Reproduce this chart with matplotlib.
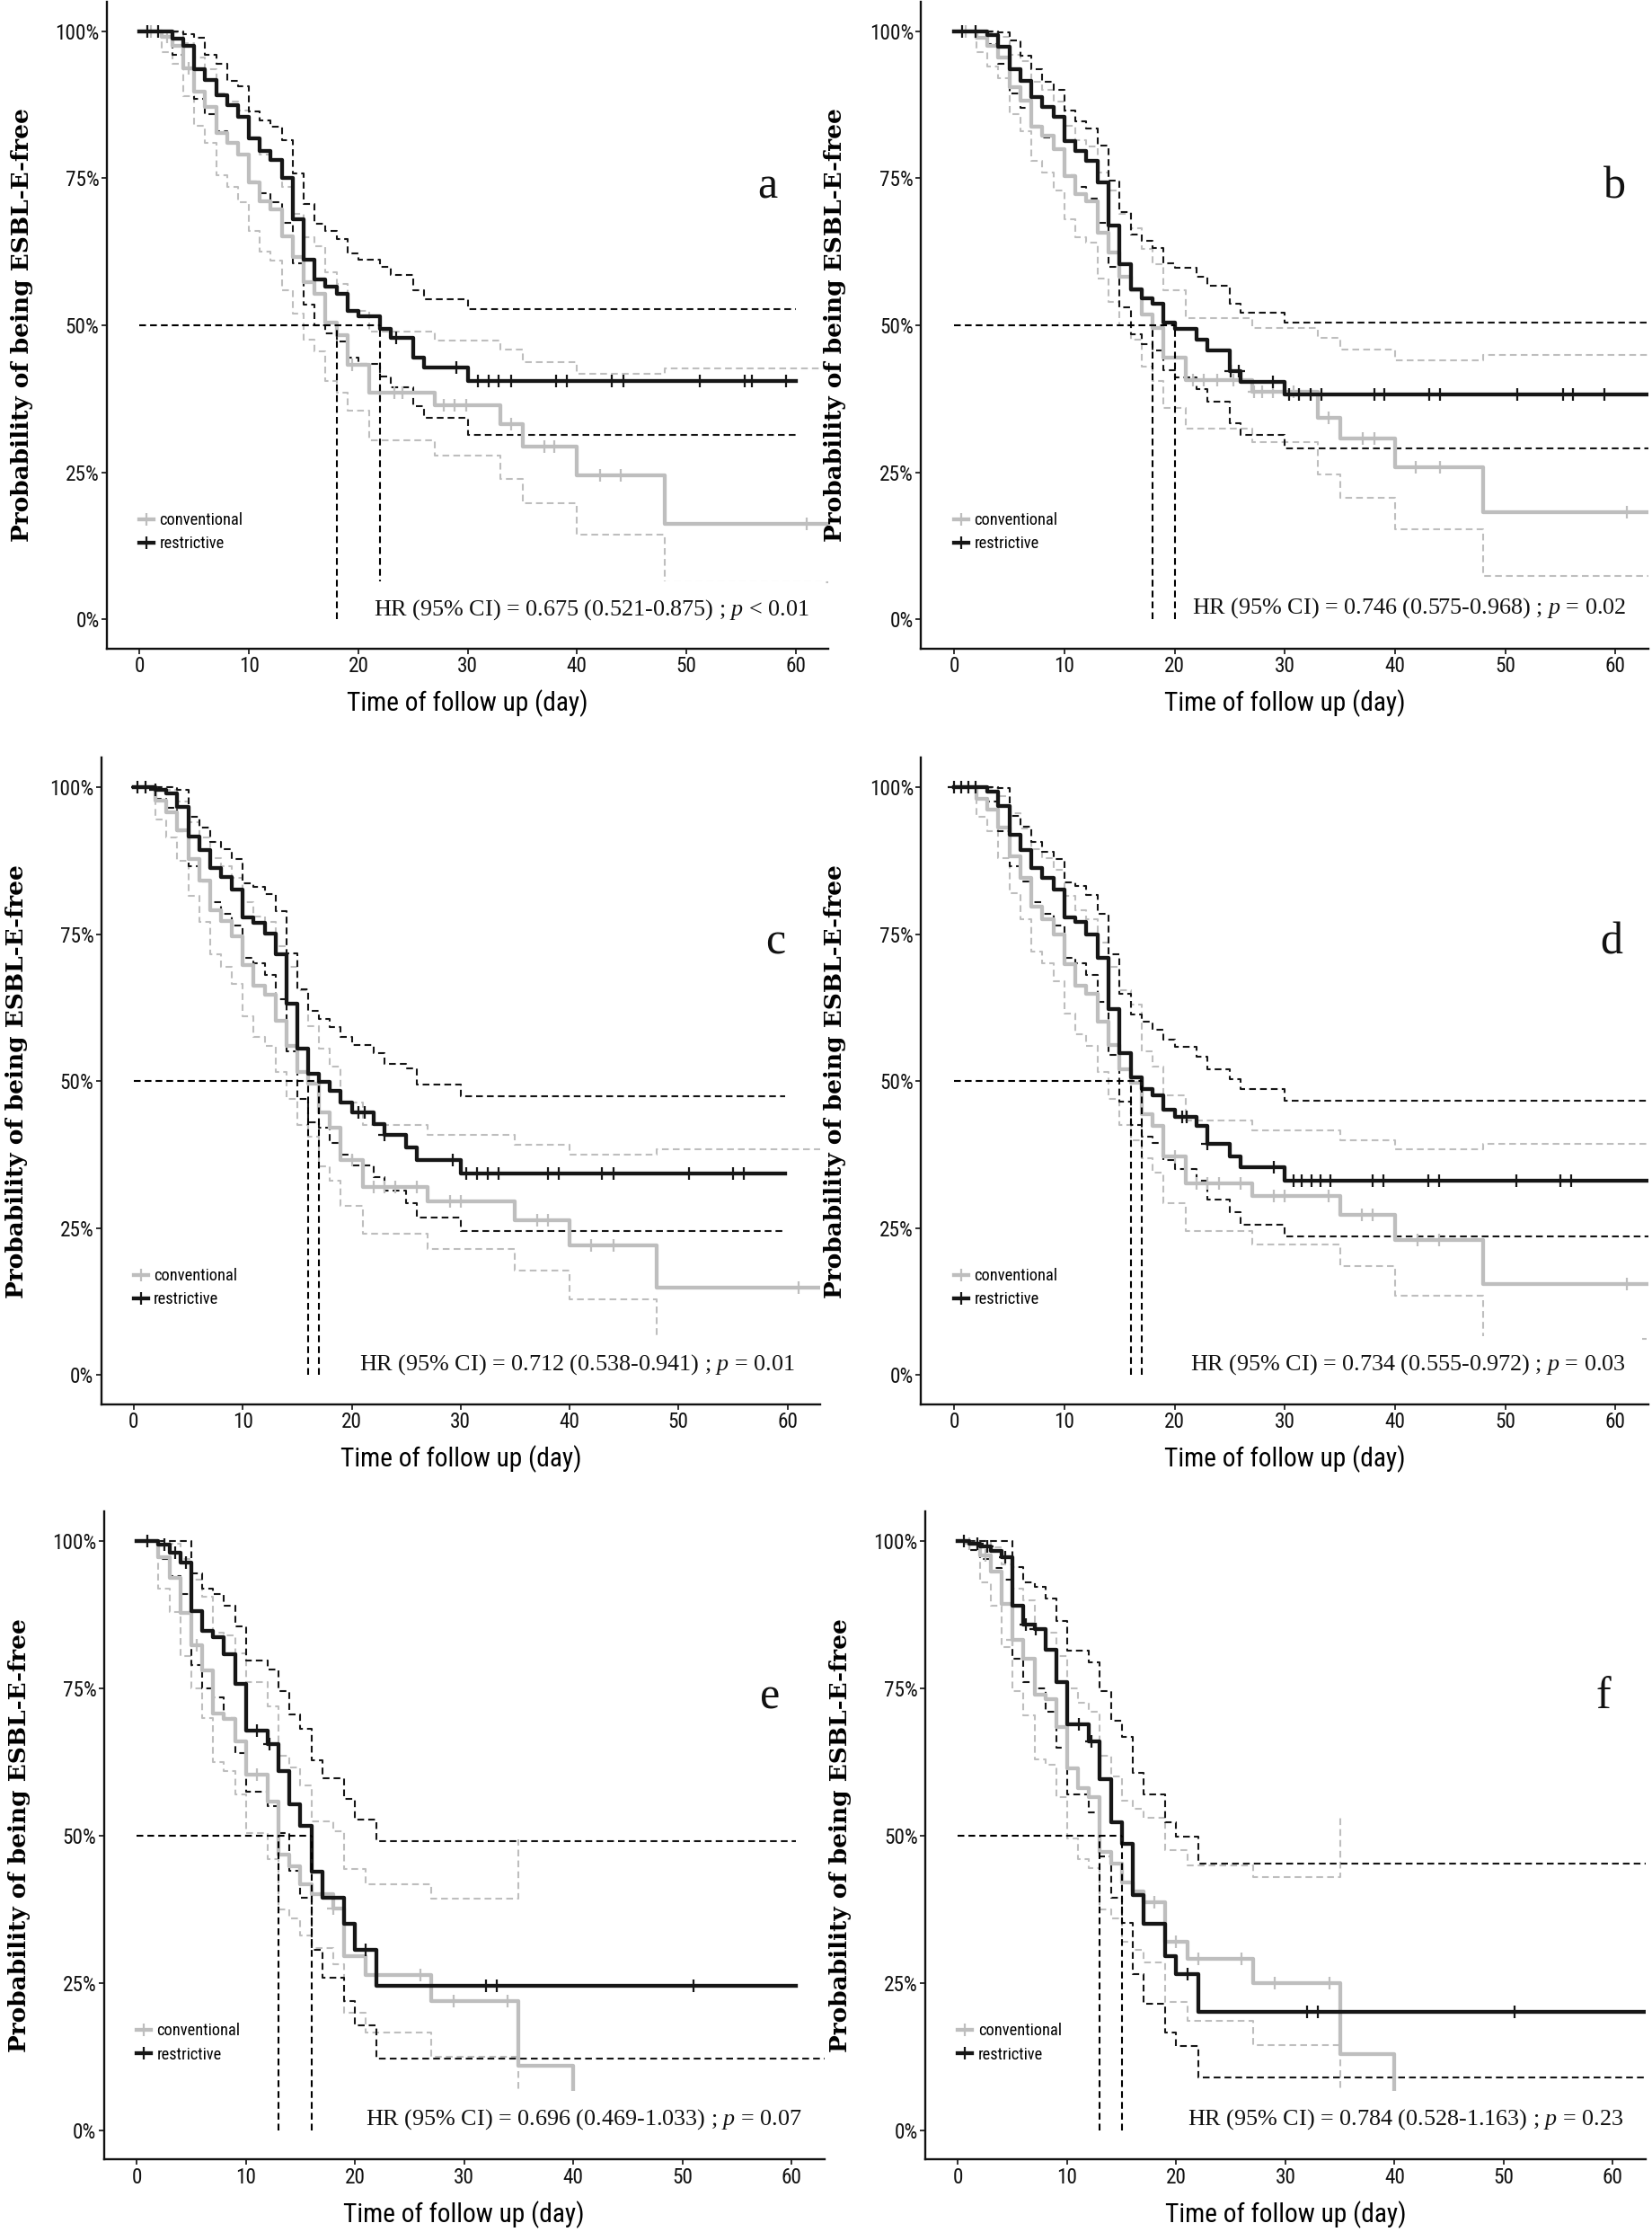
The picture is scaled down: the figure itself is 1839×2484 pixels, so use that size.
import numpy as np
import matplotlib
matplotlib.use("Agg")
import matplotlib.pyplot as plt
from matplotlib.lines import Line2D
from matplotlib import font_manager as fm

# ---------------- data (survival in %, time in days) ----------------
panel_letters = ["a", "b", "c", "d", "e", "f"]
hr_texts = [
    "HR (95% CI) = 0.675 (0.521-0.875) ; $p$ < 0.01",
    "HR (95% CI) = 0.746 (0.575-0.968) ; $p$ = 0.02",
    "HR (95% CI) = 0.712 (0.538-0.941) ; $p$ = 0.01",
    "HR (95% CI) = 0.734 (0.555-0.972) ; $p$ = 0.03",
    "HR (95% CI) = 0.696 (0.469-1.033) ; $p$ = 0.07",
    "HR (95% CI) = 0.784 (0.528-1.163) ; $p$ = 0.23",
]
group_labels = ["conventional", "restrictive"]
x_ticks = [0, 10, 20, 30, 40, 50, 60]
y_ticks = [0, 0.25, 0.5, 0.75, 1.0]
y_tick_labels = ["0%", "25%", "50%", "75%", "100%"]

# panel a
a_conv_t = [0, 2, 3, 4, 5, 6, 7, 8, 9, 10, 11, 12, 13, 14, 15, 16, 17, 18, 19, 21, 27, 33, 35, 40, 48]
a_conv_s = [100, 99, 97.6, 93.8, 89.7, 87.2, 82.7, 81.1, 79, 74.3, 71.1, 69.8, 65.2, 61.7, 57.3, 55.3, 50.4, 48.3, 43.3, 38.6, 36.4, 33.2, 29.4, 24.5, 16.2]
a_conv_hi = [100, 100, 99.8, 98, 95.5, 93.5, 89.5, 88, 86.5, 82, 79, 78, 73.5, 69, 65, 63.5, 59, 57, 52.5, 49, 47.4, 45.9, 43.8, 41.8, 42.7]
a_conv_lo = [100, 96.5, 94.5, 89, 84, 81, 75.5, 73.5, 71, 66, 62.5, 61, 56, 52, 47.5, 45.5, 40.5, 38.5, 35.5, 30.5, 27.9, 23.9, 19.7, 14.4, 6.3]
a_conv_cens = [1, 2.5, 4.5, 19.4, 22, 23.3, 24, 27.8, 28.8, 29.9, 34, 37, 37.9, 42.1, 44, 61]
a_conv_end = 63.5
a_rest_t = [0, 3, 4, 5, 6, 7, 8, 9, 10, 11, 12, 13, 14, 15, 16, 17, 18, 19, 20, 22, 23, 25, 26, 30]
a_rest_s = [100, 98.7, 97.6, 93.5, 91.7, 89.1, 87.4, 85.5, 81.8, 79.7, 78.2, 75.1, 68.1, 61.2, 57.8, 56.6, 55.3, 52.4, 51.5, 49.4, 47.8, 44.5, 42.8, 40.6]
a_rest_hi = [100, 100, 99.5, 98.9, 96, 94.5, 91.6, 90.7, 86.4, 84.8, 83.8, 81.5, 75.8, 70.7, 67.3, 66, 64.7, 62.3, 61.2, 60, 58.6, 55.9, 54.4, 52.7]
a_rest_lo = [100, 96, 93.5, 88.5, 86, 83, 81, 79, 74.5, 72.5, 71, 67.5, 60.5, 53.5, 50, 48.7, 47.3, 44.5, 43.5, 41.3, 39.5, 36.3, 34.3, 31.4]
a_rest_cens = [0.7, 1.7, 23.5, 29, 30.9, 31.9, 32.8, 34, 38.1, 39.1, 43.2, 44.2, 51.2, 55.3, 56, 59.1]
a_rest_end = 60

# panel b
b_conv_t = [0, 2, 3, 4, 5, 6, 7, 8, 9, 10, 11, 12, 13, 14, 15, 16, 17, 18, 19, 21, 27, 33, 35, 40, 48]
b_conv_s = [100, 98.9, 97.5, 95.5, 90.5, 88.2, 83.8, 82.3, 80, 75.4, 72.3, 71.1, 65.7, 62.4, 58.3, 56, 51.9, 49.5, 44.5, 40.7, 38.7, 34.3, 30.8, 25.8, 18.2]
b_conv_hi = [100, 100, 99.8, 99, 96, 95, 91.5, 90, 88, 84, 81.5, 80.5, 76, 73, 69, 66.5, 63, 60.4, 56, 51.2, 49.6, 47.9, 45.9, 44, 45]
b_conv_lo = [100, 96.5, 94, 92, 86, 83, 78, 76, 73, 68, 65, 64, 58, 54, 50, 47.5, 43, 40.5, 36, 32.4, 30.2, 24.7, 20.6, 15.3, 7.4]
b_conv_cens = [1, 21.7, 22.6, 23.9, 25.3, 27.2, 27.9, 28.9, 30.8, 34, 37.1, 38.1, 41.9, 44.1, 61]
b_conv_end = 63.5
b_rest_t = [0, 3, 4, 5, 6, 7, 8, 9, 10, 11, 12, 13, 14, 15, 16, 17, 18, 19, 20, 22, 23, 25, 26, 30]
b_rest_s = [100, 99.4, 97.4, 93.5, 91.6, 88.9, 87.1, 85.4, 81.3, 79.7, 78, 74.3, 67, 60.4, 56.1, 54.6, 53.6, 50.5, 49.4, 47.6, 45.7, 42.2, 40.4, 38.2]
b_rest_hi = [100, 100, 99.8, 98.5, 95.8, 93.5, 91.5, 90, 86.5, 84.7, 83.5, 80.6, 74.6, 69.2, 65.5, 64.4, 63.2, 60.6, 59.8, 58.3, 56.8, 53.7, 52.2, 50.5]
b_rest_lo = [100, 97.8, 94.5, 89.5, 87, 84, 82, 80, 75.5, 73.5, 71.5, 67.5, 60, 53, 48.5, 46.8, 45.7, 42.3, 41.2, 39.2, 37, 33.3, 31.4, 29.1]
b_rest_cens = [0.7, 1.9, 25.1, 25.8, 28.9, 30.4, 31.3, 32.3, 33.3, 38.1, 39, 43.1, 44.1, 51.1, 55.2, 56.1, 59]
b_rest_end = 63.5

# panel c
c_conv_t = [0, 2, 3, 4, 5, 6, 7, 8, 9, 10, 11, 12, 13, 14, 15, 16, 17, 18, 19, 21, 27, 35, 40, 48]
c_conv_s = [100, 97.7, 95.7, 92.6, 87.7, 84.1, 79.1, 77.2, 74.6, 69.8, 66.2, 64.7, 60.2, 56, 51.5, 49.6, 44.6, 42, 36.6, 32, 29.6, 26.4, 22, 14.8]
c_conv_hi = [100, 100, 99.5, 97.5, 94, 91.5, 88, 86.5, 84.5, 80.5, 78, 77, 73, 69.5, 65.5, 59.3, 55.5, 52.4, 46.3, 42.5, 40.9, 39.2, 37.5, 38.4]
c_conv_lo = [100, 94.5, 91.5, 87.5, 81.5, 77, 71.5, 69.5, 66.5, 61, 57.5, 56, 51.5, 47, 42.5, 40.5, 35.5, 33, 28.8, 24.1, 21.5, 17.8, 12.9, 3]
c_conv_cens = [20, 22, 23, 24, 26, 29, 30, 37, 38, 42, 44, 61]
c_conv_end = 63.5
c_rest_t = [0, 2, 3, 4, 5, 6, 7, 8, 9, 10, 11, 12, 13, 14, 15, 16, 17, 18, 19, 20, 22, 23, 25, 26, 30]
c_rest_s = [100, 99.5, 99, 96.7, 91.6, 89.3, 86.3, 84.7, 82.6, 77.8, 76.9, 75.1, 71.5, 63.2, 55.5, 51.3, 49.9, 48.3, 46.3, 44.7, 42.7, 40.9, 38.7, 36.6, 34.3]
c_rest_hi = [100, 100, 100, 99.5, 94.9, 93.1, 90.7, 89.4, 87.7, 83.7, 83.1, 81.8, 78.9, 71.8, 65.6, 62, 60.6, 59.2, 57.5, 56.2, 54.7, 52.9, 52.1, 49.4, 47.4]
c_rest_lo = [100, 98, 96.5, 92.5, 86.5, 84, 80.5, 78.5, 76.5, 71, 70, 68, 64, 55, 47, 43, 42, 39.4, 37.5, 35.6, 33.6, 31.4, 29.2, 26.8, 24.5]
c_rest_cens = [0.3, 1.1, 2, 20.6, 21.2, 23, 29.3, 30.5, 31.5, 32.5, 33.5, 38, 39, 43, 44, 51, 55, 56]
c_rest_end = 59.8

# panel d
d_conv_t = [0, 2, 3, 4, 5, 6, 7, 8, 9, 10, 11, 12, 13, 14, 15, 16, 17, 18, 19, 21, 27, 35, 40, 48]
d_conv_s = [100, 98, 96.2, 93.1, 88.3, 84.6, 79.7, 77.6, 75, 69.9, 66.2, 64.8, 60.1, 56.1, 52, 49.7, 44.4, 42.3, 37.2, 32.6, 30.5, 27.2, 22.9, 15.4]
d_conv_hi = [100, 100, 99.8, 98.5, 95.5, 93, 89.5, 88, 86, 81.5, 79, 77.5, 73.5, 69.5, 65.5, 63, 55, 52.5, 47.5, 43.3, 41.6, 39.9, 38.4, 39.3]
d_conv_lo = [100, 95, 92.5, 88, 82, 77.5, 72, 70, 67, 61.5, 58, 56, 51.5, 47, 42.5, 40, 36.8, 34.4, 29.2, 24.5, 22.2, 18.5, 13.5, 6.2]
d_conv_cens = [20, 22, 23, 24, 26, 29, 30, 34, 37, 38, 42, 44, 61]
d_conv_end = 63.5
d_rest_t = [0, 3, 4, 5, 6, 7, 8, 9, 10, 11, 12, 13, 14, 15, 16, 17, 18, 19, 20, 22, 23, 25, 26, 30]
d_rest_s = [100, 99.2, 96.8, 91.9, 89.3, 86.3, 84.6, 82.6, 77.8, 77.1, 75, 70.9, 62.3, 54.8, 50.6, 48.7, 47.6, 45.2, 43.9, 42.4, 39.3, 37.2, 35.3, 33.1]
d_rest_hi = [100, 100, 99.8, 95.1, 93.3, 90.7, 89, 87.8, 83.8, 83.2, 81.7, 78.5, 71.5, 64.8, 61.3, 60.1, 58.8, 57, 55.9, 54.1, 52, 50.3, 48.7, 46.7]
d_rest_lo = [100, 97.5, 92.5, 86.5, 84, 80.5, 78.5, 76.5, 71, 70, 68, 63.5, 54.5, 46.5, 42.5, 40.5, 39.5, 36.5, 35, 33, 29.8, 27.7, 25.6, 23.5]
d_rest_cens = [0, 0.6, 1.3, 1.9, 20.7, 21.1, 23, 29, 30.8, 31.5, 32.4, 33.2, 34.1, 38, 38.9, 43, 44, 51, 55, 56]
d_rest_end = 63.5

# panel e
e_conv_t = [0, 2, 3, 4, 5, 6, 7, 8, 9, 10, 12, 13, 14, 15, 16, 18, 19, 21, 27, 35, 40]
e_conv_s = [100, 97.3, 93.8, 87.8, 82.3, 78, 70.8, 69.8, 66, 60.3, 55.8, 46.8, 44.8, 41.8, 40.1, 37.6, 29.6, 26.3, 21.9, 10.9, 0]
e_conv_hi = [100, 100, 99.5, 97, 93.5, 90.5, 84.5, 84, 81, 76, 72, 63.5, 61.5, 58.5, 52.4, 50.8, 44.3, 41.8, 39.3, 49.3]
e_conv_lo = [100, 92, 88, 80.5, 75, 70, 62.5, 61, 57, 50.5, 46, 37.4, 35.9, 33, 30.9, 28.2, 19.9, 16.5, 12.4, 6.8]
e_conv_cens = [1, 5.5, 11, 18, 26, 29, 34]
e_conv_end = None
e_rest_t = [0, 2, 3, 4, 5, 6, 7, 8, 9, 10, 12, 13, 14, 15, 16, 17, 19, 20, 22]
e_rest_s = [100, 99.4, 98, 96.3, 88.1, 84.8, 83.7, 80.8, 75.7, 67.8, 65.5, 60.9, 55.3, 51.7, 43.8, 39.4, 35, 30.6, 24.5]
e_rest_hi = [100, 100, 100, 100, 94.5, 92, 91, 89.1, 85.5, 79.7, 78.2, 74.5, 70.6, 68.2, 62.8, 59.7, 56.3, 52.7, 49.1]
e_rest_lo = [100, 97, 94, 91, 79, 75, 73.5, 70, 64, 57.5, 55, 50.5, 44, 39.5, 30.6, 25.9, 21.9, 17.8, 12.1]
e_rest_cens = [1, 2.5, 3.5, 4.5, 11, 12.2, 21, 32, 33, 51]
e_rest_end = 60.4

# panel f
f_conv_t = [0, 1, 2, 3, 4, 5, 6, 7, 8, 9, 10, 11, 12, 13, 14, 15, 16, 17, 19, 21, 27, 35, 40]
f_conv_s = [100, 99.6, 97.6, 94.8, 89.4, 83.3, 80, 73.9, 73.1, 68.4, 61.4, 58.1, 56.6, 47.3, 45.3, 42, 40.5, 38.7, 32, 29, 24.9, 12.9, 0]
f_conv_hi = [100, 100, 100, 99, 96, 92, 90, 85, 84.5, 80.5, 75, 72.5, 71, 63.5, 60, 56, 54.5, 53, 47.5, 45, 43, 53.7]
f_conv_lo = [100, 98.5, 93, 89, 82, 74.5, 70.5, 63, 62, 56.5, 49.5, 46, 44.5, 37.4, 35.9, 32, 30.6, 28.5, 21.8, 18.5, 14.4, 6.8]
f_conv_cens = [1, 2.5, 5, 18, 20, 22, 26, 29, 34]
f_conv_end = None
f_rest_t = [0, 1, 2, 3, 4, 5, 6, 7, 8, 9, 10, 12, 13, 14, 15, 16, 17, 19, 20, 22]
f_rest_s = [100, 99.5, 99.1, 98.4, 97.3, 89.1, 85.9, 85.1, 81.5, 76, 68.9, 66, 59.6, 52.2, 48.6, 39.9, 35, 29.5, 26.5, 20.1]
f_rest_hi = [100, 100, 100, 100, 100, 95.6, 93, 92.3, 90.2, 86.5, 81.4, 79.4, 74.6, 69.5, 66.7, 60.7, 57, 52.2, 49.8, 45.3]
f_rest_lo = [100, 98.5, 97, 95.5, 93.5, 80, 76, 75, 71, 65, 57, 54, 46.5, 39.4, 35.1, 26.4, 21.4, 16.5, 14.2, 9]
f_rest_cens = [0.5, 1.8, 2.7, 4.3, 6.2, 7.1, 11.1, 12.2, 21, 32, 33, 51]
f_rest_end = 63.5


# ---------------- fonts ----------------
def pick_narrow_sans():
    wanted = ["Liberation Sans Narrow", "Arial Narrow", "Roboto Condensed",
              "Open Sans Condensed", "Noto Sans Condensed"]
    ents = fm.fontManager.ttflist

    def regular(f):
        try:
            w = int(f.weight)
        except (TypeError, ValueError):
            w = 400 if str(f.weight) in ("normal", "regular", "book") else 700
        return f.style == "normal" and w in (400, 500)

    for name in wanted:
        for f in ents:
            if f.name == name and regular(f):
                return f.name, f.stretch
    for stretch in ("condensed", "semi-condensed", "extra-condensed"):
        for base in ("Liberation Sans", "DejaVu Sans", "Noto Sans", "Open Sans", "Roboto"):
            for f in ents:
                if f.name == base and f.stretch == stretch and regular(f):
                    return f.name, f.stretch
    return "Liberation Sans", "normal"


SANS_NAME, SANS_STRETCH = pick_narrow_sans()
SERIF = ["Liberation Serif", "DejaVu Serif"]
plt.rcParams["font.family"] = [SANS_NAME, "DejaVu Sans"]
plt.rcParams["font.stretch"] = SANS_STRETCH
plt.rcParams["mathtext.fontset"] = "custom"
plt.rcParams["mathtext.rm"] = "Liberation Serif"
plt.rcParams["mathtext.it"] = "Liberation Serif:italic"

GRAY = "#BEBEBE"
BLACK = "#161616"
CURVE_LW = 3.1
CI_LW = 1.5
CI_DASH = (3.6, 2.2)
MED_LW = 1.5

axes_rects = [
    [0.0646, 0.7094, 0.4367, 0.2897],
    [0.5573, 0.7094, 0.4401, 0.2897],
    [0.0612, 0.3708, 0.4350, 0.2897],
    [0.5573, 0.3708, 0.4401, 0.2897],
    [0.0629, 0.0325, 0.4358, 0.2902],
    [0.5598, 0.0325, 0.4358, 0.2902],
]
letter_x = [57.4, 59.9, 58.9, 59.6, 58.0, 59.1]
hr_x = [41.3, 41.3, 40.7, 41.2, 41.0, 41.0]
hr_y = [0.016, 0.019, 0.018, 0.018, 0.018, 0.018]
# target text extents in pixels; the reference
# glyphs are narrow and tall, so sizes blend a width fit with a height fit
W_TICK100 = 47.5
TICK_HEIGHT_PT = 17.4
W_XLABEL = 257
XLABEL_HEIGHT_PT = 22
H_YLABEL = 483
W_LEGEND_CONV = 87
LEGEND_HEIGHT_PT = 14
W_HR = 485

panels = []
for L in panel_letters:
    g = globals()
    groups = []
    for key, col in (("conv", GRAY), ("rest", BLACK)):
        groups.append(dict(
            t=g[f"{L}_{key}_t"], s=g[f"{L}_{key}_s"],
            hi=g[f"{L}_{key}_hi"], lo=g[f"{L}_{key}_lo"],
            cens=g[f"{L}_{key}_cens"], end=g[f"{L}_{key}_end"], color=col))
    panels.append(groups)
ci_end_override = {("c", "conv", "lo"): None, ("e", "rest", "lo"): 63.5}


def step_xy(t, v, end):
    xs, ys = [], []
    for i in range(len(v)):
        if i > 0:
            xs.append(t[i]); ys.append(v[i - 1])
        xs.append(t[i]); ys.append(v[i])
    if end is not None:
        xs.append(end); ys.append(v[-1])
    return np.array(xs, float), np.array(ys, float) / 100.0


def surv_at(t, v, x):
    idx = np.searchsorted(np.asarray(t, float), np.asarray(x, float), side="right") - 1
    return np.asarray(v, float)[idx] / 100.0


def median_time(t, v):
    for ti, vi in zip(t, v):
        if vi <= 50:
            return ti
    return None


fig = plt.figure(figsize=(18.4, 24.84), dpi=100)
all_axes, xlabels, ylabels, legends, hrs = [], [], [], [], []

for pi, (L, groups) in enumerate(zip(panel_letters, panels)):
    ax = fig.add_axes(axes_rects[pi])
    all_axes.append(ax)
    for gi, grp in enumerate(groups):
        key = "conv" if gi == 0 else "rest"
        for cname in ("hi", "lo"):
            ci = grp[cname]
            end = grp["end"] if len(ci) == len(grp["t"]) else None
            end = ci_end_override.get((L, key, cname), end)
            x, y = step_xy(grp["t"], ci, end)
            ax.plot(x, y, color=grp["color"], lw=CI_LW, dashes=CI_DASH, zorder=2)
    for grp in groups:
        x, y = step_xy(grp["t"], grp["s"], grp["end"])
        ax.plot(x, y, color=grp["color"], lw=CURVE_LW, zorder=3)
        ax.plot(grp["cens"], surv_at(grp["t"], grp["s"], grp["cens"]), ls="none",
                marker="+", ms=10, mew=1.6, color=grp["color"], zorder=3)
    meds = [median_time(g_["t"], g_["s"]) for g_ in groups]
    ax.plot([0, max(meds)], [0.5, 0.5], color="black", lw=MED_LW, dashes=CI_DASH, zorder=4)
    for m in meds:
        ax.plot([m, m], [0, 0.5], color="black", lw=MED_LW, dashes=CI_DASH, zorder=4)

    ax.set_xlim(-3, 63)
    ax.set_ylim(-0.05, 1.05)
    ax.set_xticks(x_ticks)
    ax.set_yticks(y_ticks)
    ax.set_yticklabels(y_tick_labels)
    for sp in ("top", "right"):
        ax.spines[sp].set_visible(False)
    for sp in ("left", "bottom"):
        ax.spines[sp].set_linewidth(1.7)
        ax.spines[sp].set_color("#111111")
    ax.tick_params(direction="out", length=4, width=1.2, labelsize=17, pad=2,
                   colors="#111111")

    ax.set_xlabel("Time of follow up (day)", fontsize=22)
    ax.xaxis.label.set_va("center")
    ax.xaxis.set_label_coords(0.5, -0.0845)
    ax.set_ylabel("Probability of being ESBL-E-free", fontsize=17,
                  family=["DejaVu Serif"], fontweight="bold", fontstretch="normal")
    ax.yaxis.label.set_va("center")
    ax.yaxis.set_label_coords(-0.118, 0.5)
    xlabels.append(ax.xaxis.label)
    ylabels.append(ax.yaxis.label)

    handles = [Line2D([], [], color=GRAY, lw=CURVE_LW, marker="+", ms=10, mew=1.6),
               Line2D([], [], color=BLACK, lw=CURVE_LW, marker="+", ms=10, mew=1.6)]
    leg = ax.legend(handles, group_labels, loc="center left", bbox_to_anchor=(0.045, 0.18),
                    frameon=False, fontsize=13, handlelength=0.9, handletextpad=0.35,
                    labelspacing=0.45, borderpad=0, borderaxespad=0)
    legends.append(leg)

    ax.text(letter_x[pi], 0.716, L, ha="center", va="baseline", fontsize=36,
            family=SERIF, fontstretch="normal", color="#111111")
    hrs.append(ax.text(hr_x[pi], hr_y[pi], hr_texts[pi], ha="center", va="center",
                       fontsize=19, family=SERIF, fontstretch="normal", color="#111111",
                       zorder=10,
                       bbox=dict(boxstyle="square,pad=0.7", fc="white", ec="none")))

# fit text sizes to the extents measured on the reference
fig.canvas.draw()
r = fig.canvas.get_renderer()
t100 = all_axes[0].get_yticklabels()[-1]
tick_w = 17 * W_TICK100 / t100.get_window_extent(r).width
tick_size = 0.5 * (tick_w + TICK_HEIGHT_PT)
for ax in all_axes:
    ax.tick_params(labelsize=tick_size)
xl_w = 22 * W_XLABEL / xlabels[0].get_window_extent(r).width
xl_size = 0.5 * (xl_w + XLABEL_HEIGHT_PT)
yl_size = 17 * H_YLABEL / ylabels[0].get_window_extent(r).height
lg_w = 13 * W_LEGEND_CONV / legends[0].get_texts()[0].get_window_extent(r).width
lg_size = 0.5 * (lg_w + LEGEND_HEIGHT_PT)
hr_size = 19 * W_HR / hrs[0].get_window_extent(r).width
for t in xlabels:
    t.set_fontsize(xl_size)
for t in ylabels:
    t.set_fontsize(yl_size)
for leg in legends:
    for t in leg.get_texts():
        t.set_fontsize(lg_size)
for t in hrs:
    t.set_fontsize(hr_size)

fig.savefig("out.png", dpi=100)
